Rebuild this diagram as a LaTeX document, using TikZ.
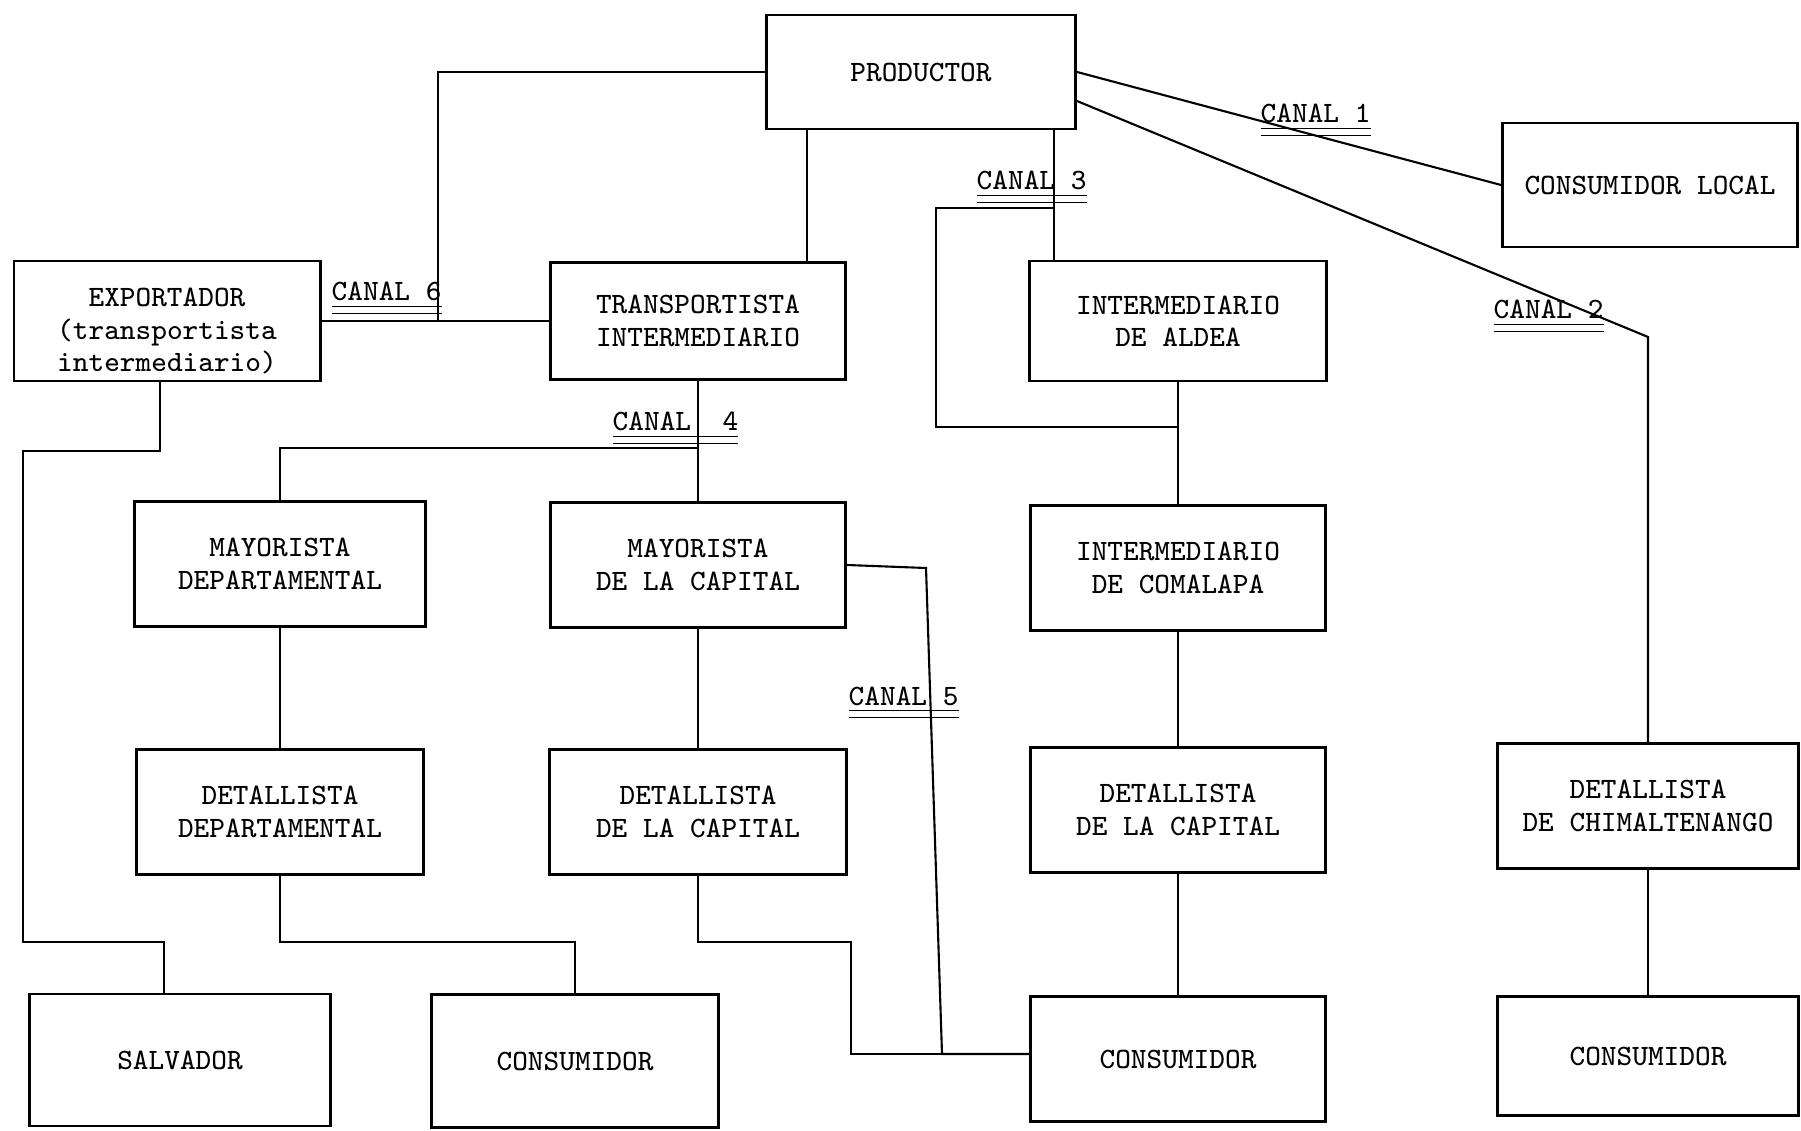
\documentclass[tikz,border=0pt]{standalone}
\tikzset{
    box/.style = {
        draw,
        line width=0.8pt,
        minimum width=2.95cm,
        minimum height=1.25cm,
        inner sep=1pt,
        align=center,
        font=\ttfamily\fontsize{8.4}{9.2}\selectfont,
        },
    canal/.style = {
        anchor=base west,
        inner sep=0pt,
        font=\ttfamily\fontsize{8.4}{9.2}\selectfont,
        },
    link/.style = {
        line width=0.6pt,
        },
}
\newcommand{\canal}[1]{\underline{\underline{CANAL~#1}}}

\begin{document}
\begin{tikzpicture}[x=0.01cm, y=-0.01cm]
            \useasboundingbox (0,0) rectangle (1801,1131);

            \node[box, minimum width=3.09cm, minimum height=1.14cm] (prod) at (921,72) {PRODUCTOR};
            \node[box, minimum height=1.24cm] (cl) at (1650,185) {CONSUMIDOR LOCAL};
            \node[box, minimum width=3.06cm, minimum height=1.2cm, inner ysep=0pt] (exp) at (167,321) {\rule{0pt}{11pt}EXPORTADOR\\(transportista\\intermediario)};
            \node[box, minimum height=1.17cm] (trans) at (698,321) {TRANSPORTISTA\\INTERMEDIARIO};
            \node[box, minimum width=2.97cm, minimum height=1.2cm] (aldea) at (1178,321) {INTERMEDIARIO\\DE ALDEA};
            \node[box, minimum width=2.91cm] (maydep) at (280,564) {MAYORISTA\\DEPARTAMENTAL};
            \node[box] (maycap) at (698,565) {MAYORISTA\\DE LA CAPITAL};
            \node[box] (comal) at (1178,568) {INTERMEDIARIO\\DE COMALAPA};
            \node[box, minimum width=2.87cm] (detdep) at (280,812) {DETALLISTA\\DEPARTAMENTAL};
            \node[box, minimum width=2.97cm] (detcap) at (698,812) {DETALLISTA\\DE LA CAPITAL};
            \node[box] (detcap2) at (1178,810) {DETALLISTA\\DE LA CAPITAL};
            \node[box, minimum width=3.01cm] (detchim) at (1648,806) {DETALLISTA\\DE CHIMALTENANGO};
            \node[box, minimum width=3.01cm, minimum height=1.32cm] (salv) at (180,1060) {SALVADOR};
            \node[box, minimum width=2.87cm, minimum height=1.33cm] (cons1) at (575,1061) {CONSUMIDOR};
            \node[box] (cons2) at (1178,1059) {CONSUMIDOR};
            \node[box, minimum width=3.01cm, minimum height=1.19cm] (cons3) at (1648,1056) {CONSUMIDOR};

            \coordinate (t1) at (807,200);
            \coordinate (c6) at (438,321);
            \coordinate (k2) at (1648,337);
            \coordinate (k3) at (1054,208);
            \coordinate (b3) at (936,427);
            \coordinate (k4) at (698,448);
            \coordinate (k5a) at (926,568);
            \coordinate (k5) at (942,1054);
            \coordinate (k6) at (851,942);
            \coordinate (d1) at (575,942);
            \coordinate (e1) at (160,451);
            \coordinate (e2) at (23,942);
            \coordinate (e3) at (164,942);

            % canal 1 y 2
            \draw[link] (prod.east) -- (cl.west);
            \draw[link] ([yshift=-0.29cm]prod.east) -- (k2) -- (detchim.north);
            % canal 3
            \draw[link] (prod.south -| k3) -- (aldea.north -| k3);
            \draw[link] (k3) -| (b3) -- (b3 -| aldea.south);
            \draw[link] (aldea) -- (comal);
            \draw[link] (comal) -- (detcap2);
            \draw[link] (detcap2) -- (cons2);
            \draw[link] (detchim) -- (cons3);
            % canal 4 y 5
            \draw[link] (prod.south -| t1) -- (trans.north -| t1);
            \draw[link] (trans) -- (maycap);
            \draw[link] (k4) -| (maydep.north);
            \draw[link] (maydep) -- (detdep);
            \draw[link] (maycap) -- (detcap);
            \draw[link] (detdep.south) |- (d1) -- (cons1.north);
            \draw[link] (maycap.east) -- (k5a) -- (k5) -- (k5 -| cons2.west);
            \draw[link] (detcap.south) |- (k6) |- (k5);
            % canal 6
            \draw[link] (prod.west) -| (c6);
            \draw[link] (exp) -- (trans);
            \draw[link] (exp.south -| e1) -- (e1) -| (e2) -- (e3) -- (salv.north -| e3);

            \node[canal] (l1) at (1260,123) {\canal{1}};
            \node[canal] (l2) at (1493,319) {\canal{2}};
            \node[canal] (l3) at (976,190) {\canal{3}};
            \node[canal] (l4) at (612,431) {\canal{~4}};
            \node[canal] (l5) at (848,705) {\canal{5}};
            \node[canal] (l6) at (331,301) {\canal{6}};
        \end{tikzpicture}
\end{document}
